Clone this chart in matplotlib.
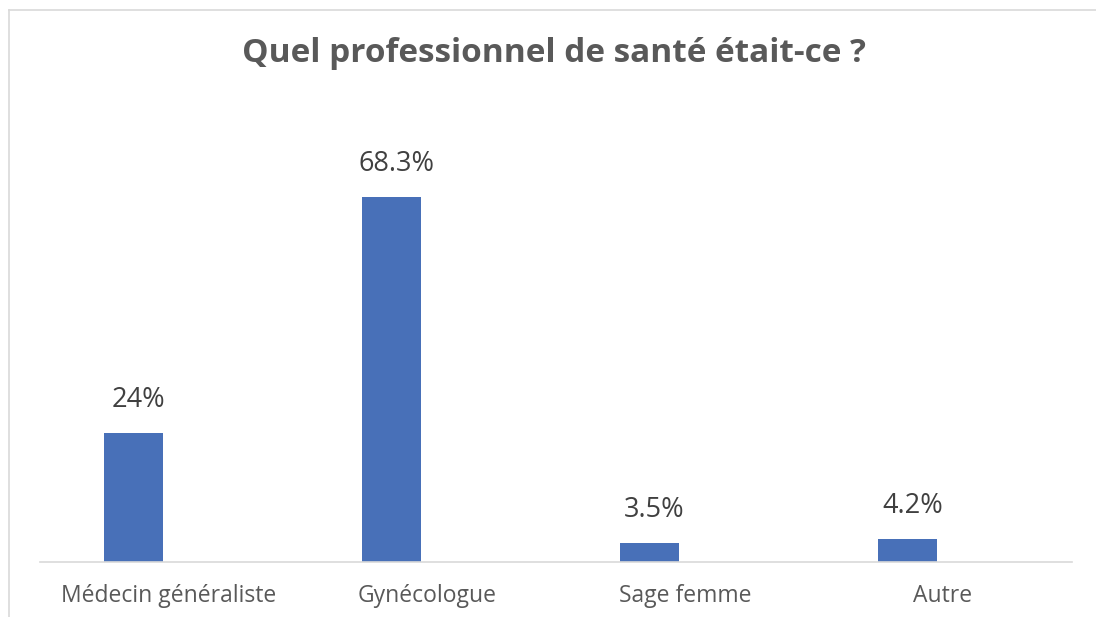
import matplotlib.pyplot as plt
from matplotlib.lines import Line2D
import numpy as np

categories = ['Médecin généraliste', 'Gynécologue', 'Sage femme', 'Autre']
values = [24, 68.3, 3.5, 4.2]
value_labels = ['24%', '68.3%', '3.5%', '4.2%']

plt.rcParams['font.family'] = ['Open Sans', 'DejaVu Sans']

W, H = 1096, 617
fig = plt.figure(figsize=(W / 100, H / 100), dpi=100)

# axes placed in pixel coords: x 40..1072, baseline at y=561.5
ax = fig.add_axes([40 / W, (H - 561.5) / H, 1032 / W, (561.5 - 134.5) / H])

x = np.arange(len(categories))
# bars sit left of the category centre, like the first series of a cluster
shift = -0.138
ax.bar(x + shift, values, width=0.228, color='#4870B8')
ax.set_xlim(-0.5, 3.5)
ax.set_ylim(0, 80)

for xi, v, lab in zip(x, values, value_labels):
    ax.annotate(lab, (xi + shift + 0.02, v), xytext=(0, 19), textcoords='offset pixels',
                ha='center', va='bottom', fontsize=19.5, color='#404040')

ax.set_xticks(x)
ax.set_xticklabels(categories, fontsize=16.5, color='#595959')
ax.tick_params(axis='x', length=0, pad=16)
ax.set_yticks([])
for s in ['top', 'right', 'left']:
    ax.spines[s].set_visible(False)
ax.spines['bottom'].set_color('#D9D9D9')
ax.spines['bottom'].set_linewidth(1.2)

fig.text(554 / W, 1 - 53 / H, 'Quel professionnel de santé était-ce ?',
         ha='center', va='center', fontsize=24, fontweight='bold', color='#595959')

# chart frame (left and top edges)
fig.add_artist(Line2D([9 / W, 9 / W], [0, 1 - 10 / H], transform=fig.transFigure,
                      color='#D9D9D9', lw=1.2))
fig.add_artist(Line2D([9 / W, 1], [1 - 10 / H, 1 - 10 / H], transform=fig.transFigure,
                      color='#D9D9D9', lw=1.2))

fig.savefig('out.png', dpi=100)
